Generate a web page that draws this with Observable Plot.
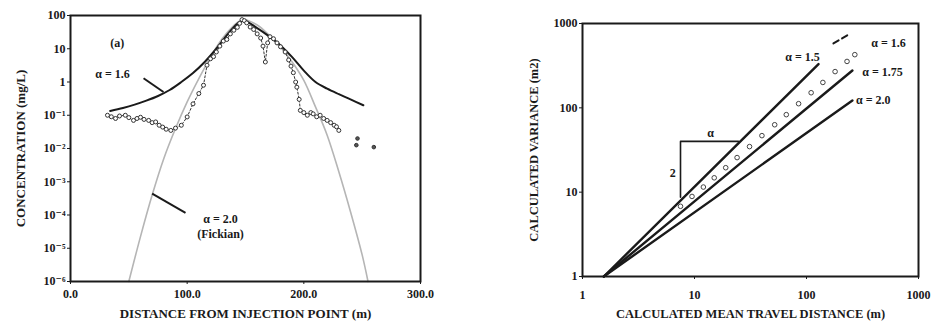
<!DOCTYPE html>
<html><head><meta charset="utf-8">
<script src="https://cdn.jsdelivr.net/npm/d3@7"></script>
<script src="https://cdn.jsdelivr.net/npm/@observablehq/plot@0.6"></script>
<style>
body{margin:0;background:#fff;}
#wrap{position:relative;width:936px;height:327px;overflow:hidden;}
#a,#b{position:absolute;top:0;}
#a{left:0px}
#b{left:470px}
#wrap svg text{font-family:"Liberation Serif","DejaVu Serif",serif !important;font-weight:bold;}
</style></head><body><div id="wrap"><div id="a"></div><div id="b"></div></div>
<script>
// ---------- Panel (a): concentration vs distance ----------
const xTicksA = [0, 100, 200, 300];
const yTicksA = [1e-6, 1e-5, 1e-4, 1e-3, 1e-2, 1e-1, 1, 10, 100];
const yTickLabelsA = ["10\u207B\u2076", "10\u207B\u2075", "10\u207B\u2074", "10\u207B\u00B3", "10\u207B\u00B2", "10\u207B\u00B9", "1", "10", "100"];
const xTitleA = "DISTANCE FROM INJECTION POINT (m)";
const yTitleA = "CONCENTRATION (mg/L)";

// alpha = 1.6 fitted curve
const fit16Dist = [34, 45, 55, 65, 75, 85, 95, 105, 115, 125, 135, 143, 148, 160, 170, 180, 190, 200, 210, 220, 230, 240, 251];
const fit16Conc = [0.135, 0.166, 0.209, 0.275, 0.38, 0.575, 1.0, 1.86, 4.0, 10, 28, 56, 71, 42, 24, 12.6, 5.6, 2.2, 1.0, 0.63, 0.43, 0.30, 0.20];

// alpha = 2.0 (Fickian) curve
const fit20Dist = [50, 60, 70, 80, 90, 100, 110, 120, 130, 140, 148, 160, 170, 180, 190, 200, 210, 220, 230, 240, 250, 255];
const fit20Conc = [1e-6, 2.24e-5, 3.98e-4, 5.0e-3, 0.0398, 0.251, 1.26, 5.62, 20, 50, 76, 52, 26, 11.2, 4.0, 1.12, 0.178, 0.0251, 0.002, 1.26e-4, 6.3e-6, 1e-6];

// observed concentrations
const obsDist = [31.7, 35, 38.6, 42, 47, 50, 54, 57, 60, 63, 67, 70, 73, 76, 79, 82, 86, 90, 95, 100, 105, 110, 114, 117, 120, 122.6, 125, 128, 131, 134, 137, 140, 143, 145, 147, 149, 151, 154, 157, 160, 163, 165, 167, 169, 171, 174, 177, 180, 184, 187, 189, 191, 193, 194, 196, 197, 200, 203, 206, 208, 211, 214, 217, 220, 223, 226, 228, 230];
const obsConc = [0.1, 0.09, 0.08, 0.095, 0.1, 0.085, 0.07, 0.08, 0.087, 0.075, 0.07, 0.06, 0.063, 0.05, 0.044, 0.038, 0.035, 0.041, 0.05, 0.089, 0.22, 0.45, 0.8, 3.2, 5, 5.8, 8, 12, 17, 19, 28, 36, 44, 58, 75, 70, 60, 45, 38, 28, 21, 12, 4, 15, 23, 20, 15, 11.5, 8, 4.6, 3, 1.9, 1.0, 0.7, 0.3, 0.14, 0.12, 0.1, 0.12, 0.11, 0.09, 0.1, 0.08, 0.07, 0.06, 0.05, 0.045, 0.035];
const strayDist = [245, 246, 260];
const strayConc = [0.0126, 0.02, 0.011];

// annotation labels and leader lines (data units)
const annA = [
  {x: 40, y: 15, t: "(a)"},
  {x: 36, y: 1.74, t: "\u03B1 = 1.6"},
  {x: 128.6, y: 7.6e-5, t: "\u03B1 = 2.0"},
  {x: 128.6, y: 2.6e-5, t: "(Fickian)"}
];
const leaderA = [
  {x1: 62.6, y1: 1.3, x2: 79.7, y2: 0.5},
  {x1: 70, y1: 4.4e-4, x2: 98.6, y2: 1.15e-4}
];

// ---------- Panel (b): variance vs mean travel distance ----------
const logTicksB = [1, 10, 100, 1000];
const xTitleB = "CALCULATED MEAN TRAVEL DISTANCE (m)";
const yTitleB = "CALCULATED VARIANCE (m2)";
const line15X = [1.55, 128], line15Y = [1, 330];
const line175X = [1.55, 257], line175Y = [1, 277];
const line20X = [1.55, 257], line20Y = [1, 122];
const dash16X = [174, 246], dash16Y = [580, 760];
const obsMeanDist = [7.5, 9.5, 12, 15, 19, 24, 31, 40, 52, 66, 85, 110, 140, 180, 230, 270];
const obsVariance = [6.8, 8.9, 11.5, 14.8, 19.5, 25.7, 34.7, 46.8, 63, 83, 112, 151, 200, 269, 355, 427];
const slopeX = [24.7, 7.5, 7.5], slopeY = [40, 40, 8.7];
const annB = [
  {x: 92, y: 400, t: "\u03B1 = 1.5"},
  {x: 540, y: 580, t: "\u03B1 = 1.6"},
  {x: 478, y: 263, t: "\u03B1 = 1.75"},
  {x: 395, y: 123, t: "\u03B1 = 2.0"},
  {x: 13.9, y: 49.7, t: "\u03B1"},
  {x: 6.4, y: 16.7, t: "2"}
];

const pts = (xs, ys) => xs.map((x, i) => ({x, y: ys[i]}));
const ink = "#1a1a1a";
const serif = "'Liberation Serif', 'DejaVu Serif', serif";
const font = {fontFamily: serif, fontWeight: "bold", fontSize: "12px", background: "white", color: ink};

const plotA = Plot.plot({
  width: 460, height: 327,
  marginLeft: 70, marginRight: 40, marginTop: 15, marginBottom: 46,
  style: font,
  x: {domain: [0, 300]},
  y: {type: "log", domain: [1e-6, 100]},
  marks: [
    Plot.line(pts(fit20Dist, fit20Conc), {x: "x", y: "y", stroke: "#b5b5b5", strokeWidth: 1.6, curve: "catmull-rom"}),
    Plot.line(pts(fit16Dist, fit16Conc), {x: "x", y: "y", stroke: ink, strokeWidth: 2, curve: "catmull-rom"}),
    Plot.line(pts(obsDist, obsConc), {x: "x", y: "y", stroke: "#333", strokeWidth: 1, strokeDasharray: "2,2"}),
    Plot.dot(pts(obsDist, obsConc), {x: "x", y: "y", r: 2, stroke: "#333", strokeWidth: 1, fill: "white"}),
    Plot.dot(pts(strayDist, strayConc), {x: "x", y: "y", r: 1.8, stroke: "#333", strokeWidth: 1, fill: "#555"}),
    Plot.link(leaderA, {x1: "x1", y1: "y1", x2: "x2", y2: "y2", stroke: ink, strokeWidth: 2}),
    Plot.text(annA, {x: "x", y: "y", text: "t", fontSize: 12, fill: ink, fontFamily: serif, fontWeight: "bold"}),
    Plot.axisX({ticks: xTicksA, tickFormat: d3.format(".1f"), tickSize: 3, tickPadding: 5, label: null, fontSize: 12}),
    Plot.axisY({ticks: yTicksA, tickFormat: d => yTickLabelsA[yTicksA.indexOf(d)], tickSize: 3, tickPadding: 2, label: null, fontSize: 12}),
    Plot.text([xTitleA], {frameAnchor: "bottom", dy: 36, text: d => d, fontSize: 13, fill: ink, fontFamily: serif, fontWeight: "bold"}),
    Plot.text([yTitleA], {frameAnchor: "left", dx: -50, rotate: -90, textAnchor: "middle", text: d => d, fontSize: 13, fill: ink, fontFamily: serif, fontWeight: "bold"}),
    Plot.frame({stroke: ink, strokeWidth: 2})
  ]
});
document.getElementById("a").append(plotA);

const plotB = Plot.plot({
  width: 466, height: 327,
  marginLeft: 112, marginRight: 18, marginTop: 23, marginBottom: 51,
  style: font,
  x: {type: "log", domain: [1, 1000]},
  y: {type: "log", domain: [1, 1000]},
  marks: [
    Plot.line(pts(line15X, line15Y), {x: "x", y: "y", stroke: ink, strokeWidth: 2.4}),
    Plot.line(pts(line175X, line175Y), {x: "x", y: "y", stroke: ink, strokeWidth: 2.4}),
    Plot.line(pts(line20X, line20Y), {x: "x", y: "y", stroke: ink, strokeWidth: 2.4}),
    Plot.line(pts(dash16X, dash16Y), {x: "x", y: "y", stroke: ink, strokeWidth: 2, strokeDasharray: "6,4"}),
    Plot.dot(pts(obsMeanDist, obsVariance), {x: "x", y: "y", r: 2.3, stroke: "#444", strokeWidth: 1, fill: "white"}),
    Plot.line(pts(slopeX, slopeY), {x: "x", y: "y", stroke: ink, strokeWidth: 1.6}),
    Plot.text(annB, {x: "x", y: "y", text: "t", fontSize: 12, fill: ink, fontFamily: serif, fontWeight: "bold"}),
    Plot.axisX({ticks: logTicksB, tickFormat: d => String(d), tickSize: 3, tickPadding: 11, label: null, fontSize: 12}),
    Plot.axisY({ticks: logTicksB, tickFormat: d => String(d), tickSize: 3, tickPadding: 2, label: null, fontSize: 12}),
    Plot.text([xTitleB], {frameAnchor: "bottom", dy: 41, text: d => d, fontSize: 12.5, fill: ink, fontFamily: serif, fontWeight: "bold"}),
    Plot.text([yTitleB], {frameAnchor: "left", dx: -49, rotate: -90, textAnchor: "middle", text: d => d, fontSize: 12.5, fill: ink, fontFamily: serif, fontWeight: "bold"}),
    Plot.frame({stroke: ink, strokeWidth: 2})
  ]
});
document.getElementById("b").append(plotB);
</script></body></html>
